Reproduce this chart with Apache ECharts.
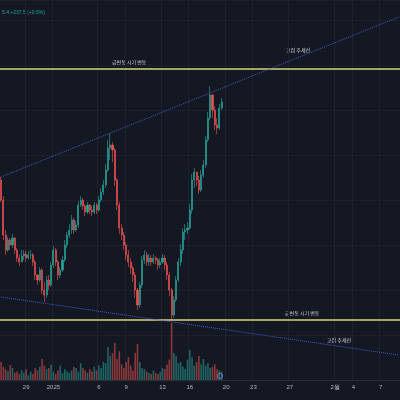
<!DOCTYPE html>
<html><head><meta charset="utf-8">
<script src="https://cdn.jsdelivr.net/npm/echarts@6/dist/echarts.min.js"></script>
<style>html,body{margin:0;background:#141823}#c{width:400px;height:400px}</style>
</head><body><div id="c"></div>
<script>
// 4 candles per day, starting Dec 26
var closes = [200,165,150,160,155,162,150,142,138,144,146,142,145,145,138,125,120,130,110,105,
  120,115,135,150,138,125,130,140,155,165,170,180,170,175,195,200,194,188,195,190,
  188,195,190,200,208,215,230,252,255,250,220,195,172,165,155,145,138,132,125,110,
  95,115,140,145,138,142,138,142,140,135,138,142,135,125,110,85,100,120,138,150,
  168,170,172,190,220,228,220,210,225,235,260,282,305,290,275,272,292,298]
var highs = [223,204,170,163,162,166,163,152,146,150,150,149,149,150,147,140,126,133,132,118,
  124,125,138,154,152,140,133,144,160,168,176,185,182,179,199,204,202,196,198,196,
  194,198,197,204,212,220,236,260,267,258,252,222,198,176,168,158,150,142,134,128,
  112,118,144,150,148,146,145,146,144,142,142,146,145,138,128,112,104,124,142,156,
  172,176,178,196,226,232,228,224,230,240,264,288,314,306,294,282,296,302]
var lows = [198,160,145,148,150,152,146,138,134,138,140,138,140,141,134,120,115,118,106,98,
  102,110,113,132,134,120,122,128,138,152,162,166,166,168,172,193,190,184,186,186,
  184,186,186,188,198,205,212,228,240,238,214,190,166,160,150,140,133,126,118,102,
  90,92,112,136,134,134,134,136,136,130,132,136,130,120,104,80,82,98,118,134,
  146,160,166,170,186,212,214,206,208,222,232,258,280,282,270,266,270,290]
var volumes = [30,22,18,15,25,20,12,14,10,16,12,18,8,14,10,20,16,22,35,24,
  18,20,26,14,10,16,24,12,18,14,12,16,22,20,14,28,20,16,12,18,
  14,22,16,24,20,30,28,55,40,45,62,35,48,26,20,30,38,24,16,45,
  60,30,20,18,14,12,10,16,12,10,14,20,18,26,34,95,45,40,28,30,
  22,18,34,50,38,24,30,40,26,35,24,28,20,22,26,18,16,14]
var tickIdx = [11, 23, 43, 55, 71, 83, 99, 111, 127, 147, 155, 167]
var tickText = ['29', '2025', '6', '9', '13', '16', '20', '23', '27', '2월', '4', '7']
var N = 176

var cats = [], kdata = [], vdata = []
for (var i = 0; i < N; i++) cats.push(i)
for (var i = 0; i < closes.length; i++) {
    var o = i == 0 ? 220 : closes[i - 1]
    kdata.push([o, closes[i], lows[i], highs[i]])
    vdata.push({value: volumes[i], itemStyle: {color: closes[i] >= o ? 'rgba(38,166,154,0.55)' : 'rgba(239,83,80,0.55)'}})
}
function isTick(i) { return tickIdx.indexOf(i) >= 0 }

var myChart = echarts.init(document.getElementById('c'))
var yellow = '#d9d47e', blue = '#4b57c8'
var option = {
    backgroundColor: '#141823',
    animation: false,
    grid: [
        {left: 0, right: 0, top: 0, bottom: 20},
        {left: 0, right: 0, top: 320, bottom: 20}
    ],
    xAxis: [{
        type: 'category', data: cats, gridIndex: 0, boundaryGap: true,
        axisLine: {show: false}, axisTick: {show: false}, axisLabel: {show: false},
        splitLine: {show: true, interval: function (i) { return isTick(i) }, lineStyle: {color: '#1e2230', width: 1}}
    }, {
        type: 'category', data: cats, gridIndex: 1, boundaryGap: true,
        axisLine: {show: true, lineStyle: {color: '#2a2e39'}}, axisTick: {show: false},
        axisLabel: {
            interval: function (i) { return isTick(i) },
            formatter: function (v) { return tickText[tickIdx.indexOf(+v)] },
            color: '#b2b5be', fontSize: 6, margin: 4
        }
    }],
    yAxis: [{
        type: 'value', gridIndex: 0, min: 20, max: 400, interval: 45, position: 'right',
        axisLabel: {show: false}, axisLine: {show: false},
        splitLine: {lineStyle: {color: '#1c202c'}}
    }, {
        type: 'value', gridIndex: 1, min: 0, max: 100, show: false, splitLine: {show: false}
    }],
    series: [{
        type: 'bar', xAxisIndex: 1, yAxisIndex: 1, data: vdata, barWidth: 1.6, z: 1
    }, {
        type: 'candlestick', data: kdata, barWidth: 1.6, z: 3,
        itemStyle: {color: '#26a69a', color0: '#ef5350', borderColor: '#26a69a', borderColor0: '#ef5350', borderWidth: 0.6},
        markLine: {
            symbol: 'none', silent: true, label: {show: false},
            data: [
                {yAxis: 331, lineStyle: {color: yellow, width: 1.5, type: 'solid'}},
                {yAxis: 80, lineStyle: {color: yellow, width: 1.5, type: 'solid'}},
                [{coord: [0, 223]}, {coord: [175, 383]}],
                [{coord: [0, 103]}, {coord: [175, 45]}]
            ],
            lineStyle: {color: blue, width: 1, type: 'dotted'}
        }
    }],
    graphic: [
        {type: 'text', left: 2, top: 10, style: {text: '5.4 +237.5 (+0.5%)', fill: '#26a69a', font: '5px sans-serif'}},
        {type: 'text', left: 112, top: 60, style: {text: '급변동 시기 변동', fill: '#d1d4dc', font: '5px "Noto Sans CJK KR"'}},
        {type: 'text', left: 285, top: 311, style: {text: '급변동 시기 변동', fill: '#d1d4dc', font: '5px "Noto Sans CJK KR"'}},
        {type: 'text', left: 286, top: 48, style: {text: '고점 추세선', fill: '#d1d4dc', font: '5px "Noto Sans CJK KR"'}},
        {type: 'text', left: 327, top: 338, style: {text: '고점 추세선', fill: '#d1d4dc', font: '5px "Noto Sans CJK KR"'}},
        {type: 'circle', shape: {cx: 220, cy: 376, r: 2.5}, style: {fill: 'none', stroke: '#9c6ade', lineWidth: 1}}
    ]
}
option && myChart.setOption(option)
</script></body></html>
